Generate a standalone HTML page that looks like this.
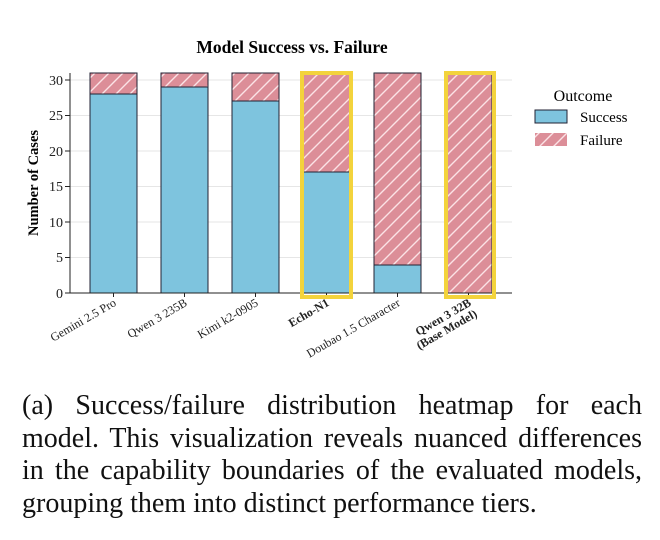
<!DOCTYPE html>
<html><head><style>
body{margin:0;background:#fff;width:660px;height:540px;overflow:hidden}
.cap{position:absolute;left:22px;top:390px;width:620px;font-family:"Liberation Serif",serif;font-size:28px;line-height:32.5px;color:#111}
.cap div{text-align:justify;text-align-last:justify;white-space:nowrap}
.cap div.l{text-align-last:left}
</style></head><body>
<svg width="660" height="380" style="position:absolute;left:0;top:0" font-family="Liberation Serif, serif">
<defs>
<pattern id="h" patternUnits="userSpaceOnUse" width="14" height="14">
<rect width="14" height="14" fill="#dc8e98"/>
<path d="M-2,16 L16,-2 M-9,9 L9,-9 M5,23 L23,5" stroke="#fbe3e6" stroke-width="1.4"/>
</pattern>
</defs>
<text x="292" y="53" text-anchor="middle" font-weight="bold" font-size="17.5">Model Success vs. Failure</text>
<g stroke="#e6e6e6" stroke-width="1">
<line x1="70" x2="512" y1="80" y2="80"/><line x1="70" x2="512" y1="115.5" y2="115.5"/><line x1="70" x2="512" y1="151" y2="151"/><line x1="70" x2="512" y1="186.5" y2="186.5"/><line x1="70" x2="512" y1="222" y2="222"/><line x1="70" x2="512" y1="257.5" y2="257.5"/>
</g>
<g font-size="14" text-anchor="end" fill="#222">
<text x="63" y="298">0</text><text x="63" y="262">5</text><text x="63" y="227">10</text><text x="63" y="191">15</text><text x="63" y="156">20</text><text x="63" y="120">25</text><text x="63" y="85">30</text>
</g>
<g stroke="#222"><line x1="65" x2="70" y1="293" y2="293"/><line x1="65" x2="70" y1="257.5" y2="257.5"/><line x1="65" x2="70" y1="222" y2="222"/><line x1="65" x2="70" y1="186.5" y2="186.5"/><line x1="65" x2="70" y1="151" y2="151"/><line x1="65" x2="70" y1="115.5" y2="115.5"/><line x1="65" x2="70" y1="80" y2="80"/></g>
<text transform="translate(38,183) rotate(-90)" text-anchor="middle" font-weight="bold" font-size="14.5">Number of Cases</text>
<g stroke="#223" stroke-width="1">
<rect x="90" y="73" width="47" height="21" fill="url(#h)"/><rect x="90" y="94" width="47" height="199" fill="#7ec4de"/>
<rect x="161" y="73" width="47" height="14" fill="url(#h)"/><rect x="161" y="87" width="47" height="206" fill="#7ec4de"/>
<rect x="232" y="73" width="47" height="28" fill="url(#h)"/><rect x="232" y="101" width="47" height="192" fill="#7ec4de"/>
<rect x="303" y="73" width="47" height="99" fill="url(#h)"/><rect x="303" y="172" width="47" height="121" fill="#7ec4de"/>
<rect x="374" y="73" width="47" height="192" fill="url(#h)"/><rect x="374" y="265" width="47" height="28" fill="#7ec4de"/>
<rect x="445" y="73" width="47" height="220" fill="url(#h)"/>
</g>
<line x1="70" x2="70" y1="73" y2="293" stroke="#222"/>
<line x1="70" x2="512" y1="293" y2="293" stroke="#222"/>
<g stroke="#222"><line x1="113.5" x2="113.5" y1="293" y2="297"/><line x1="184.5" x2="184.5" y1="293" y2="297"/><line x1="255.5" x2="255.5" y1="293" y2="297"/><line x1="326.5" x2="326.5" y1="293" y2="297"/><line x1="397.5" x2="397.5" y1="293" y2="297"/><line x1="468.5" x2="468.5" y1="293" y2="297"/></g>
<g fill="none" stroke="#f3d33c" stroke-width="4">
<rect x="302" y="73" width="49" height="224"/>
<rect x="446" y="73" width="48" height="224"/>
</g>
<g font-size="12" text-anchor="end" fill="#222">
<text transform="translate(117,305) rotate(-30)">Gemini 2.5 Pro</text>
<text transform="translate(188,305) rotate(-30)">Qwen 3 235B</text>
<text transform="translate(259,305) rotate(-30)">Kimi k2-0905</text>
<text transform="translate(330,305) rotate(-30)" font-weight="bold">Echo-N1</text>
<text transform="translate(401,305) rotate(-30)">Doubao 1.5 Character</text>
<text transform="translate(472,305) rotate(-30)" font-weight="bold">Qwen 3 32B</text>
<text transform="translate(478,316) rotate(-30)" font-weight="bold">(Base Model)</text>
</g>
<text x="583" y="101" text-anchor="middle" font-size="16">Outcome</text>
<rect x="535" y="110" width="32" height="13" fill="#7ec4de" stroke="#223"/>
<text x="580" y="122" font-size="15">Success</text>
<rect x="535" y="133" width="32" height="13" fill="url(#h)"/>
<text x="580" y="145" font-size="15">Failure</text>
</svg>
<div class="cap">
<div>(a) Success/failure distribution heatmap for each</div>
<div>model. This visualization reveals nuanced differences</div>
<div>in the capability boundaries of the evaluated models,</div>
<div class="l">grouping them into distinct performance tiers.</div>
</div>
</body></html>
